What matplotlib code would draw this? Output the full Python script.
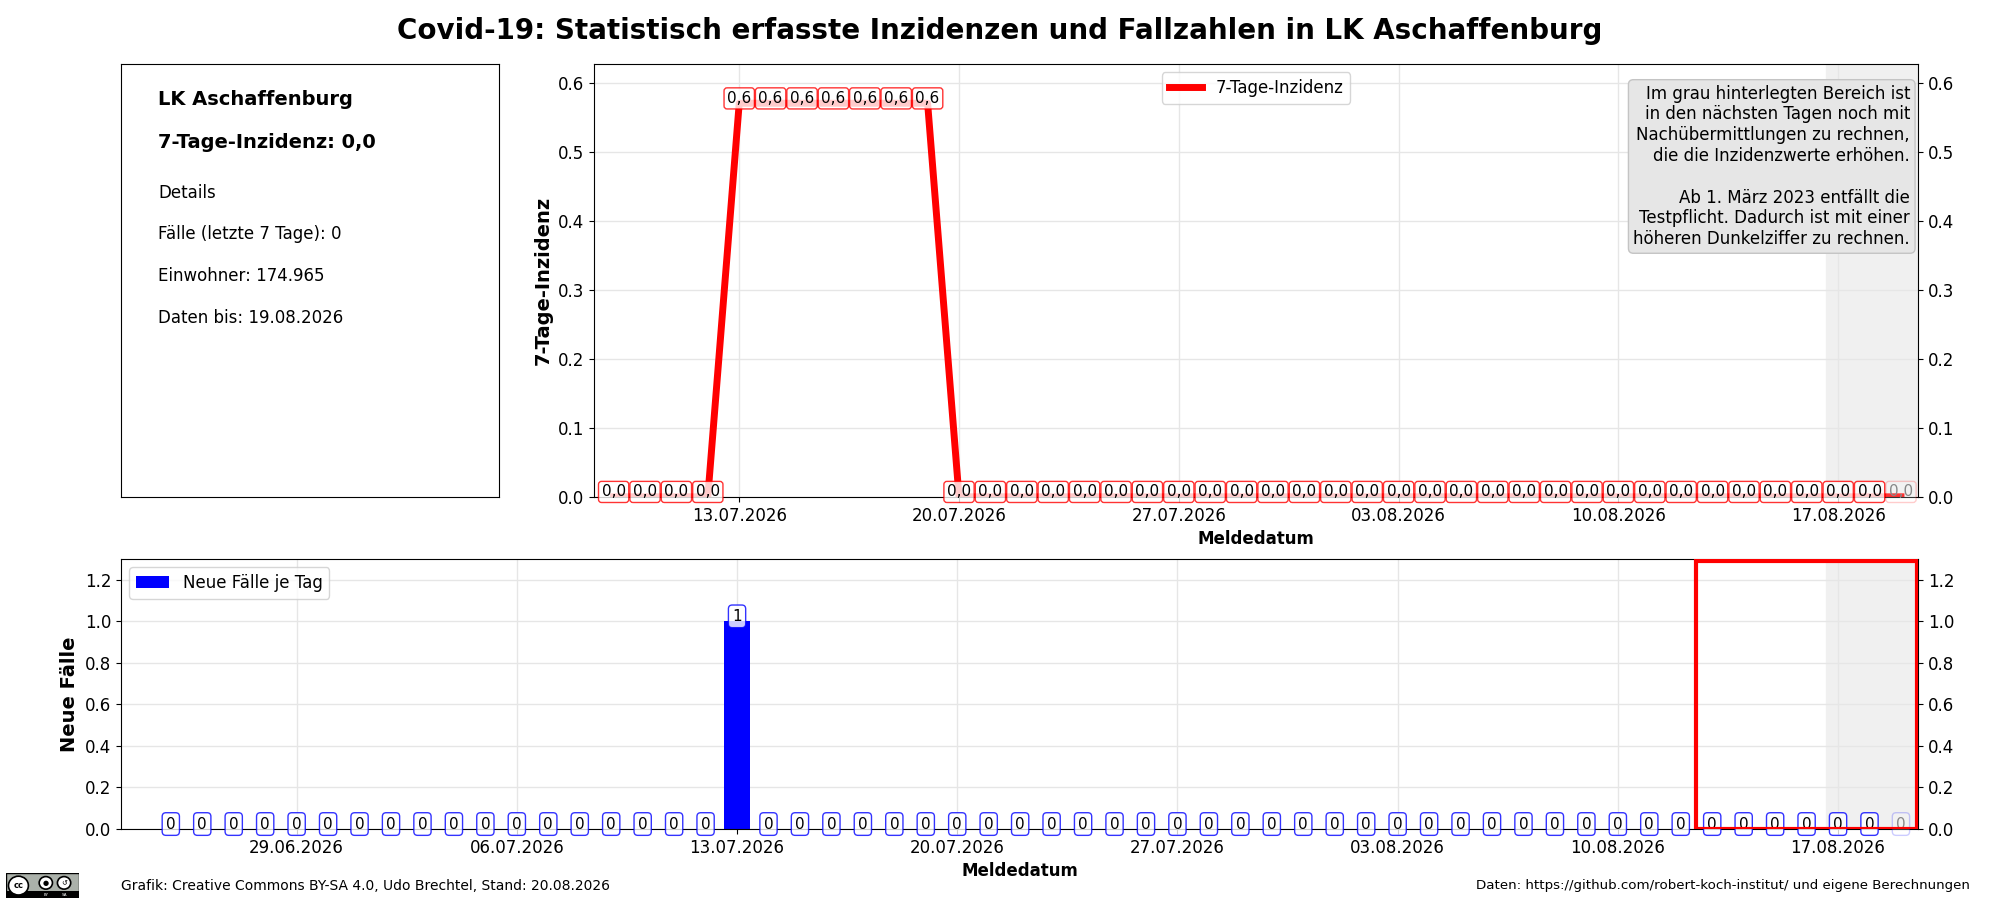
import matplotlib
matplotlib.use('Agg')
import numpy as np
import pandas as pd
import matplotlib.pyplot as plt
import matplotlib.dates as mdates
from matplotlib.patches import Rectangle, Circle

region = 'LK Aschaffenburg'
einwohner = '174.965'
daten_bis = '19.08.2026'
stand = '20.08.2026'

# 7-Tage-Inzidenz, 09.07.2026 - 19.08.2026
inz_dates = pd.date_range('2026-07-09', '2026-08-19')
inz_values = [0.0, 0.0, 0.0, 0.0,
              0.57, 0.57, 0.57, 0.57, 0.57, 0.57, 0.57,
              0.0, 0.0, 0.0, 0.0, 0.0, 0.0, 0.0, 0.0, 0.0, 0.0,
              0.0, 0.0, 0.0, 0.0, 0.0, 0.0, 0.0, 0.0, 0.0, 0.0,
              0.0, 0.0, 0.0, 0.0, 0.0, 0.0, 0.0, 0.0, 0.0, 0.0, 0.0]

# Neue Faelle je Tag, 25.06.2026 - 19.08.2026
case_dates = pd.date_range('2026-06-25', '2026-08-19')
case_values = [0, 0, 0, 0, 0, 0, 0, 0, 0, 0, 0, 0, 0, 0, 0, 0, 0, 0,
               1,
               0, 0, 0, 0, 0, 0, 0, 0, 0, 0, 0, 0, 0, 0, 0, 0, 0, 0, 0,
               0, 0, 0, 0, 0, 0, 0, 0, 0, 0, 0, 0, 0, 0, 0, 0, 0, 0]

# Bereich mit Nachmeldungen / letzte 7 Tage
shade_start = pd.Timestamp('2026-08-16 15:00')
week_start = pd.Timestamp('2026-08-12 12:00')
week_end = pd.Timestamp('2026-08-19 12:00')

note = ('Im grau hinterlegten Bereich ist\n'
        'in den nächsten Tagen noch mit\n'
        'Nachübermittlungen zu rechnen,\n'
        'die die Inzidenzwerte erhöhen.\n\n'
        'Ab 1. März 2023 entfällt die\n'
        'Testpflicht. Dadurch ist mit einer\n'
        'höheren Dunkelziffer zu rechnen.')


def fmt(v, decimals):
    return f'{v:.{decimals}f}'.replace('.', ',')


def style_dates(ax):
    ax.xaxis.set_major_locator(mdates.WeekdayLocator(byweekday=mdates.MO))
    ax.xaxis.set_major_formatter(mdates.DateFormatter('%d.%m.%Y'))
    ax.tick_params(axis='both', labelsize=12)
    ax.tick_params(axis='y', right=True, labelright=True)
    ax.set_axisbelow(True)
    ax.grid(True, color='#e6e6e6', lw=1)
    ax.set_xlabel('Meldedatum', fontsize=12, fontweight='bold')


fig = plt.figure(figsize=(20, 9), dpi=100)
fig.text(0.5, 0.966, f'Covid-19: Statistisch erfasste Inzidenzen und Fallzahlen in {region}',
         ha='center', va='center', fontsize=20, fontweight='bold')

# info box
ax_info = fig.add_axes([0.0605, 0.448, 0.189, 0.481])
ax_info.set_xticks([])
ax_info.set_yticks([])
info = [('LK Aschaffenburg', 0.917, 'bold', 14),
        (f'7-Tage-Inzidenz: {fmt(inz_values[-1], 1)}', 0.818, 'bold', 14),
        ('Details', 0.702, 'normal', 12),
        (f'Fälle (letzte 7 Tage): {sum(case_values[-7:])}', 0.607, 'normal', 12),
        (f'Einwohner: {einwohner}', 0.510, 'normal', 12),
        (f'Daten bis: {daten_bis}', 0.413, 'normal', 12)]
for txt, y, w, s in info:
    ax_info.text(0.098, y, txt, transform=ax_info.transAxes, va='center',
                 fontsize=s, fontweight=w)

# 7-Tage-Inzidenz
ax1 = fig.add_axes([0.297, 0.448, 0.662, 0.481])
ax1.axvspan(shade_start, pd.Timestamp('2026-08-20'), color='#f0f0f0', zorder=0)
ax1.plot(inz_dates, inz_values, color='red', lw=5, label='7-Tage-Inzidenz', zorder=2)
for i, (d, v) in enumerate(zip(inz_dates, inz_values)):
    last = i == len(inz_values) - 1
    ax1.annotate(fmt(v, 1), (d, v), xytext=(0, 3.5), textcoords='offset points',
                 ha='center', va='center', fontsize=11,
                 color='#888888' if last else 'black', annotation_clip=False, zorder=3,
                 bbox=dict(boxstyle='round,pad=0.2', fc='white', ec='red',
                           alpha=0.2 if last else 0.8))
ax1.set_xlim(pd.Timestamp('2026-07-08 09:00'), pd.Timestamp('2026-08-19 13:00'))
ax1.set_ylim(0, max(inz_values) * 1.1)
ax1.set_ylabel('7-Tage-Inzidenz', fontsize=14, fontweight='bold')
style_dates(ax1)
ax1.legend(loc='upper center', fontsize=12)
ax1.text(0.994, 0.952, note, transform=ax1.transAxes, ha='right', va='top', fontsize=12,
         bbox=dict(boxstyle='round,pad=0.3', fc='#e6e6e6', ec='#c4c4c4'))

# Neue Faelle
ax2 = fig.add_axes([0.0605, 0.079, 0.8985, 0.3])
ax2.axvspan(shade_start, pd.Timestamp('2026-08-20'), color='#f0f0f0', zorder=0)
ax2.bar(case_dates, case_values, width=0.8, color='blue', label='Neue Fälle je Tag', zorder=2)
for i, (d, v) in enumerate(zip(case_dates, case_values)):
    last = i == len(case_values) - 1
    ax2.annotate(str(v), (d, v), xytext=(0, 3.5), textcoords='offset points',
                 ha='center', va='center', fontsize=11,
                 color='#888888' if last else 'black', annotation_clip=False, zorder=3,
                 bbox=dict(boxstyle='round,pad=0.25', fc='white', ec='blue',
                           alpha=0.2 if last else 0.8))
ax2.add_patch(Rectangle((mdates.date2num(week_start), 0),
                        mdates.date2num(week_end) - mdates.date2num(week_start), 1.29,
                        fill=False, ec='red', lw=3, zorder=4))
ax2.set_xlim(pd.Timestamp('2026-06-23 10:00'), pd.Timestamp('2026-08-19 13:00'))
ax2.set_ylim(0, 1.3)
ax2.set_ylabel('Neue Fälle', fontsize=14, fontweight='bold')
style_dates(ax2)
ax2.legend(loc='upper left', fontsize=12)

# footer
fig.text(0.0605, 0.016, f'Grafik: Creative Commons BY-SA 4.0, Udo Brechtel, Stand: {stand}',
         va='center', fontsize=10)
fig.text(0.985, 0.016, 'Daten: https://github.com/robert-koch-institut/ und eigene Berechnungen',
         va='center', ha='right', fontsize=9.65)

# cc badge
ax_cc = fig.add_axes([0.003, 0.0025, 0.0365, 0.027])
ax_cc.set_xlim(0, 88)
ax_cc.set_ylim(0, 31)
ax_cc.axis('off')
ax_cc.add_patch(Rectangle((0, 0), 88, 31, fc='#abb1aa', ec='black', lw=1))
ax_cc.add_patch(Rectangle((0, 0), 88, 8, fc='black'))
ax_cc.add_patch(Circle((15, 15.5), 12, fc='white', ec='black', lw=1.2))
ax_cc.text(15, 15.5, 'cc', ha='center', va='center', fontsize=6, fontweight='bold')
for cx, s in [(48, '●'), (70, '↺')]:
    ax_cc.add_patch(Circle((cx, 19), 8, fc='white', ec='black', lw=1.2))
    ax_cc.text(cx, 19, s, ha='center', va='center', fontsize=5)
ax_cc.text(48, 4, 'BY', ha='center', va='center', fontsize=3, color='white')
ax_cc.text(70, 4, 'SA', ha='center', va='center', fontsize=3, color='white')

fig.savefig('out.png', dpi=100)
